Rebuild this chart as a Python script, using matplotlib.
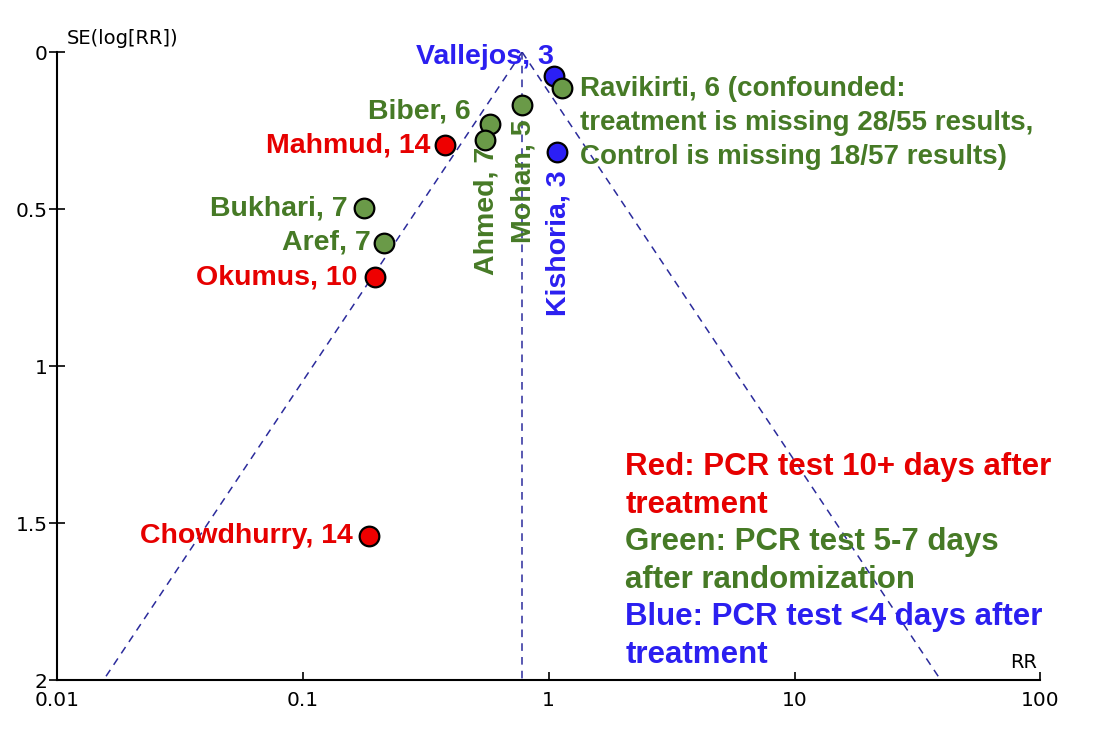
import numpy as np
import matplotlib.pyplot as plt

# studies: name, RR, SE(log RR), group
names = ["Vallejos, 3", "Ravikirti, 6 (confounded:\ntreatment is missing 28/55 results,\nControl is missing 18/57 results)",
         "Mohan, 5", "Biber, 6", "Ahmed, 7", "Mahmud, 14", "Kishoria, 3",
         "Bukhari, 7", "Aref, 7", "Okumus, 10", "Chowdhurry, 14"]
rr = [1.05, 1.13, 0.78, 0.58, 0.55, 0.38, 1.08, 0.177, 0.214, 0.197, 0.186]
se = [0.076, 0.115, 0.17, 0.23, 0.28, 0.296, 0.318, 0.497, 0.608, 0.717, 1.54]
group = ["blue", "green", "green", "green", "green", "red", "blue",
         "green", "green", "red", "red"]

pooled_rr = 0.78
se_max = 2.0

legend_lines = [("Red: PCR test 10+ days after", "red"), ("treatment", "red"),
                ("Green: PCR test 5-7 days", "green"), ("after randomization", "green"),
                ("Blue: PCR test <4 days after", "blue"), ("treatment", "blue")]

fill = {"red": "#ee0000", "green": "#6a9a48", "blue": "#2b1ff5"}
txtc = {"red": "#e60000", "green": "#467a26", "blue": "#2b1ff0"}

# label offsets in pixels (dx, dy), alignment, rotation, size
lab = [((0, 12), "right", "baseline", 0, 20.5),
       ((18, 12), "left", "top", 0, 20),
       ((1, -14), "center", "top", 90, 20.5),
       ((-20, 13), "right", "center", 0, 20.5),
       ((2, -7), "center", "top", 90, 20.5),
       ((-15, 0), "right", "center", 0, 20.5),
       ((2, -18), "center", "top", 90, 20.5),
       ((-16, 0), "right", "center", 0, 20.5),
       ((-13, 0), "right", "center", 0, 20.5),
       ((-18, 0), "right", "center", 0, 20.5),
       ((-16, 0), "right", "center", 0, 20.5)]

fig = plt.figure(figsize=(10.94, 7.44), dpi=100)
ax = fig.add_axes([0.052, 0.086, 0.899, 0.844])
ax.set_xscale("log")
ax.set_xlim(0.01, 100)
ax.set_ylim(2, 0)

# funnel
s = np.array([0, se_max])
ax.plot(pooled_rr * np.exp(-1.96 * s), s, ls=(0, (5, 4)), color="#2b2b9c", lw=1.1)
ax.plot(pooled_rr * np.exp(1.96 * s), s, ls=(0, (5, 4)), color="#2b2b9c", lw=1.1)
ax.plot([pooled_rr, pooled_rr], s, ls=(0, (5, 4)), color="#2b2b9c", lw=1.1)

for i in range(len(names)):
    ax.scatter(rr[i], se[i], s=200, color=fill[group[i]], edgecolor="black",
               linewidth=1.6, zorder=3)
    (dx, dy), ha, va, rot, fs = lab[i]
    ax.annotate(names[i], (rr[i], se[i]), xytext=(dx, dy), textcoords="offset pixels",
                ha=ha, va=va, rotation=rot, color=txtc[group[i]],
                fontsize=fs, fontweight="bold", family="Liberation Sans",
                linespacing=1.4, zorder=4)

for j, (t, c) in enumerate(legend_lines):
    ax.text(0.578, 0.339 - j * 0.0598, t, transform=ax.transAxes, color=txtc[c],
            fontsize=22.5, fontweight="bold", family="Liberation Sans", va="center")

for sp in ["top", "right"]:
    ax.spines[sp].set_visible(False)
ax.spines["left"].set_linewidth(1.5)
ax.spines["bottom"].set_linewidth(1.5)
ax.set_xticks([0.01, 0.1, 1, 10, 100])
ax.set_xticklabels(["0.01", "0.1", "1", "10", "100"])
ax.minorticks_off()
ax.set_yticks([0, 0.5, 1, 1.5, 2])
ax.set_yticklabels(["0", "0.5", "1", "1.5", "2"])
ax.tick_params(axis="x", direction="in", length=6, width=1.2, labelsize=14.5, pad=8)
ax.tick_params(axis="y", direction="inout", length=11, width=1.2, labelsize=14.5, pad=1)

ax.text(0.01, 1.006, "SE(log[RR])", transform=ax.transAxes, fontsize=14, va="bottom")
ax.text(0.997, 0.012, "RR", transform=ax.transAxes, fontsize=14, ha="right", va="bottom")

fig.savefig("out.png", dpi=100)
